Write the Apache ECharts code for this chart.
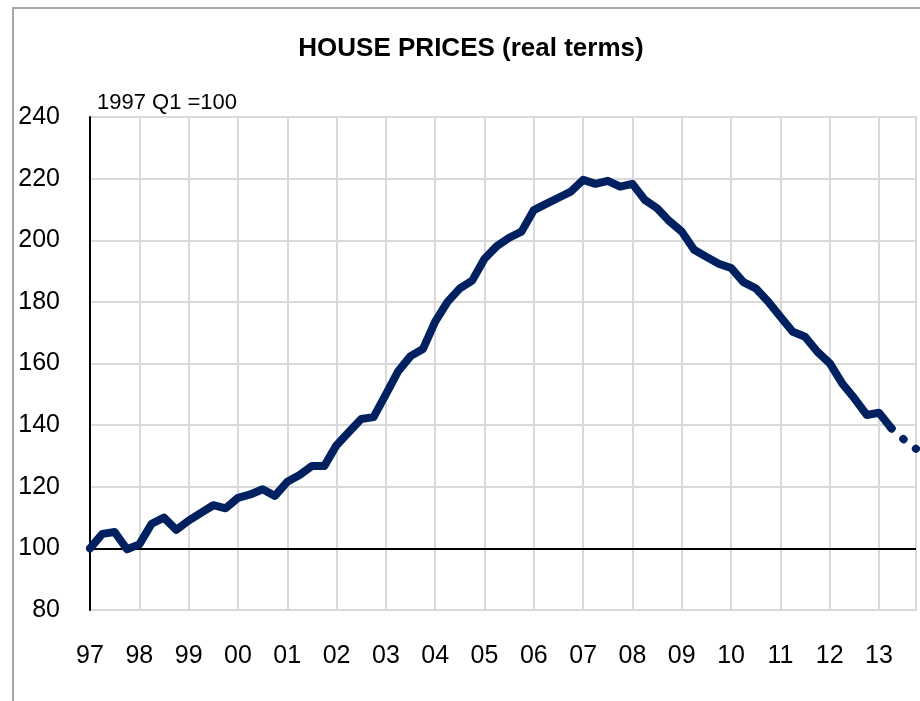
<!DOCTYPE html>
<html>
<head>
<meta charset="utf-8">
<script src="https://cdn.jsdelivr.net/npm/echarts@6/dist/echarts.min.js"></script>
<style>
  html, body { margin: 0; padding: 0; background: #fff; }
  #main { width: 920px; height: 701px; }
</style>
</head>
<body>
<div id="main"></div>
<script>
// year tick labels (shown at each Q1)
var years = ['97', '98', '99', '00', '01', '02', '03', '04', '05', '06', '07', '08', '09', '10', '11', '12', '13'];

// quarterly categories 1997 Q1 .. 2013 Q4
var quarters = [];
years.forEach(function (y) {
    ['Q1', 'Q2', 'Q3', 'Q4'].forEach(function (q) { quarters.push(y + ' ' + q); });
});

// real house price index, 1997 Q1 = 100
var prices = [
    100, 104.7, 105.3, 99.7, 101.3, 108, 110, 106,
    109, 111.5, 114, 113, 116.4, 117.5, 119.2, 117,
    121.6, 123.8, 126.7, 126.7, 133.5, 137.8, 142, 142.6,
    150, 157.5, 162.4, 164.7, 173.6, 180, 184.4, 186.9,
    194, 198.1, 200.8, 202.8, 209.8, 211.8, 213.8, 215.8,
    219.6, 218.3, 219.3, 217.4, 218.3, 213.1, 210.4, 206.2,
    202.8, 196.9, 194.6, 192.4, 191, 186.4, 184.4, 180.1,
    175.2, 170.3, 168.7, 163.8, 160.1, 153.6, 148.7, 143.3,
    144, 139, 135.4, 132.3
];
// last actual quarter (after this the line is dotted)
var lastActual = 65;

var actual = prices.map(function (v, i) { return i <= lastActual ? v : '-'; });
var projected = prices.map(function (v, i) { return i >= lastActual ? v : '-'; });

var isYearStart = function (i) { return i % 4 === 0; };

var myChart = echarts.init(document.getElementById('main'));
var option = {
    animation: false,
    backgroundColor: '#fff',
    grid: {
        left: 90, right: 4, top: 117, bottom: 91,
        show: true, borderColor: '#d9d9d9', borderWidth: 2
    },
    graphic: [
        // outer chart frame
        { type: 'polyline', shape: { points: [[13, 701], [13, 8], [920, 8]] },
          style: { stroke: '#a6a6a6', lineWidth: 2, fill: null } },
        { type: 'text', x: 471, y: 49,
          style: { text: 'HOUSE PRICES (real terms)', align: 'center', verticalAlign: 'middle',
                   font: 'bold 26px "Liberation Sans", Arial', fill: '#000' } },
        { type: 'text', x: 97, y: 92,
          style: { text: '1997 Q1 =100', font: '22px "Liberation Sans", Arial', fill: '#000' } }
    ],
    xAxis: {
        type: 'category',
        data: quarters,
        boundaryGap: false,
        axisLine: { show: false },
        axisTick: { show: false },
        axisLabel: {
            interval: function (i) { return isYearStart(i); },
            formatter: function (v) { return v.split(' ')[0]; },
            margin: 34, fontSize: 25, color: '#000', fontFamily: '"Liberation Sans", Arial'
        },
        splitLine: {
            show: true, interval: function (i) { return isYearStart(i); },
            lineStyle: { color: '#d9d9d9', width: 2 }
        }
    },
    yAxis: {
        type: 'value',
        min: 80, max: 240, interval: 20,
        axisLine: { show: true, onZero: false, lineStyle: { color: '#000', width: 2 } },
        axisTick: { show: false },
        axisLabel: { margin: 30, fontSize: 25, color: '#000', fontFamily: '"Liberation Sans", Arial' },
        splitLine: { show: true, lineStyle: { color: '#d9d9d9', width: 2 } }
    },
    series: [
        {
            name: 'baseline', type: 'line', data: [], silent: true,
            markLine: {
                symbol: 'none', silent: true, label: { show: false },
                lineStyle: { color: '#000', width: 2, type: 'solid' },
                data: [{ yAxis: 100 }]
            }
        },
        {
            name: 'House prices', type: 'line', data: actual,
            showSymbol: false, symbol: 'none', z: 5,
            lineStyle: { color: '#002060', width: 8, join: 'round', cap: 'round' }
        },
        {
            name: 'Projection', type: 'line', data: projected,
            showSymbol: false, symbol: 'none', z: 5,
            lineStyle: { color: '#002060', width: 8, type: [0.5, 15.5], cap: 'round' }
        }
    ]
};
myChart.setOption(option);
</script>
</body>
</html>
